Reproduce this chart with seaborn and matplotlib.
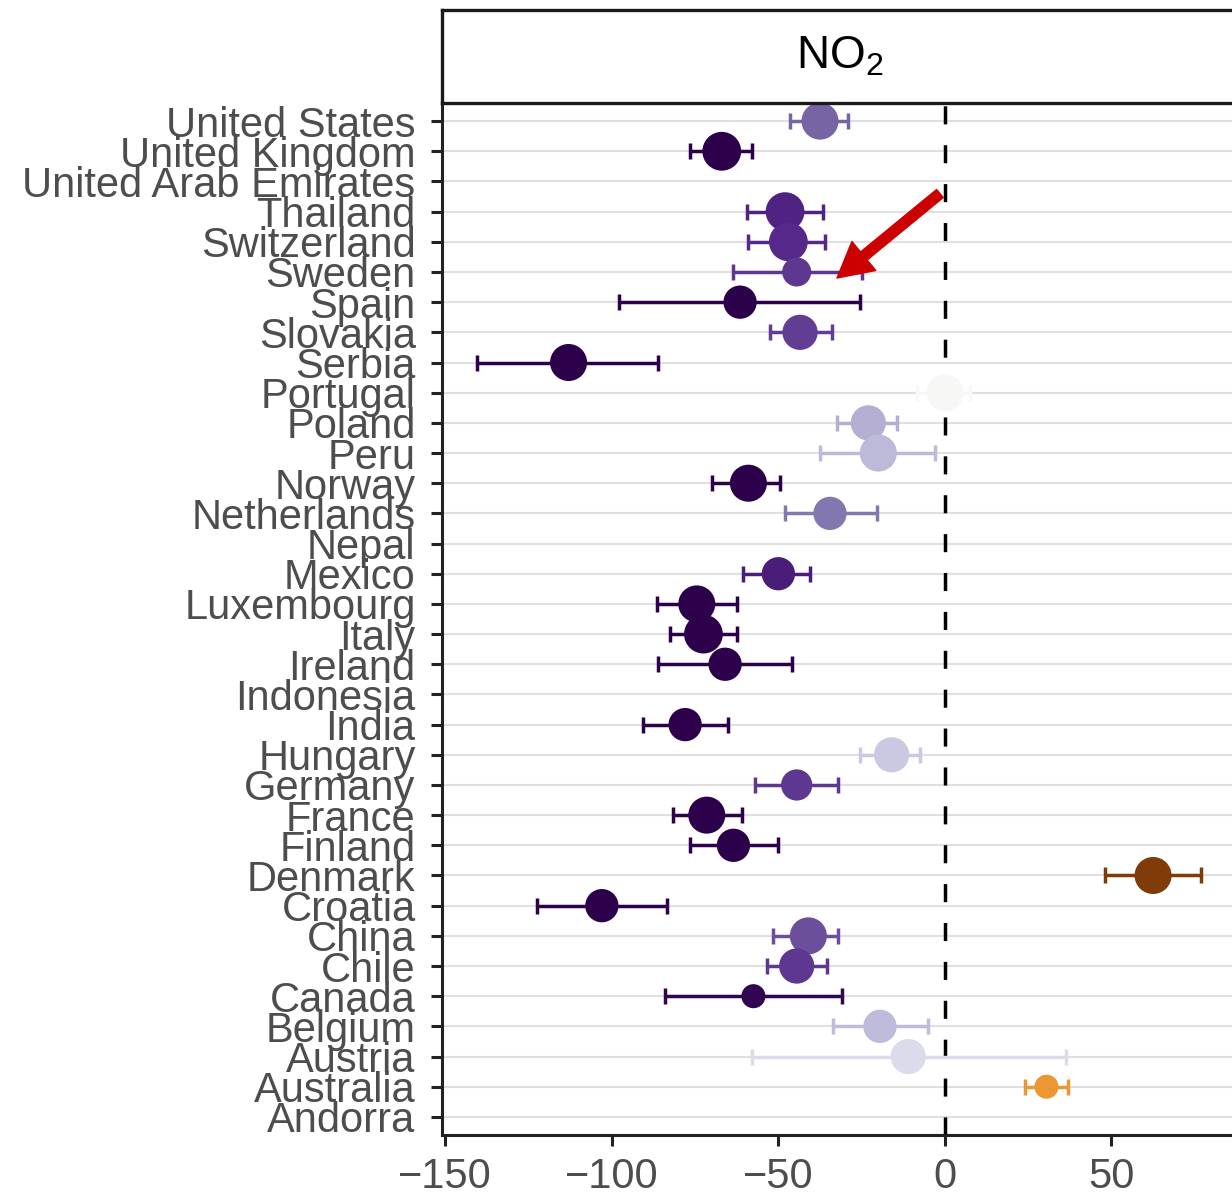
import numpy as np
import pandas as pd
import seaborn as sns
import matplotlib.pyplot as plt
from matplotlib.colors import Normalize

nan = np.nan

# countries from top to bottom
countries = ["United States", "United Kingdom", "United Arab Emirates", "Thailand",
	"Switzerland", "Sweden", "Spain", "Slovakia", "Serbia", "Portugal", "Poland",
	"Peru", "Norway", "Netherlands", "Nepal", "Mexico", "Luxembourg", "Italy",
	"Ireland", "Indonesia", "India", "Hungary", "Germany", "France", "Finland",
	"Denmark", "Croatia", "China", "Chile", "Canada", "Belgium", "Austria",
	"Australia", "Andorra"]

estimate = [-37.5, -67, nan, -48, -47, -44.5, -61.5, -43.5, -113, 0, -23,
	-20, -59, -34.5, nan, -50, -74.5, -72.5,
	-66, nan, -78, -16, -44.5, -71.5, -63.5,
	62.5, -103, -41, -44.5, -57.5, -19.5, -11,
	30.5, nan]

lower = [-46.5, -76.5, nan, -59.5, -59, -63.5, -98, -52.5, -140.5, -8.5, -32.5,
	-37.5, -70, -48, nan, -60.5, -86.5, -82.5,
	-86, nan, -90.5, -25.5, -57, -81.5, -76.5,
	48, -122.5, -51.5, -53.5, -84, -33.5, -58,
	24, nan]

upper = [-29, -58, nan, -36.5, -36, -25, -25.5, -34, -86, 7.5, -14.5,
	-3, -49.5, -20.5, nan, -40.5, -62.5, -62.5,
	-46, nan, -65, -7.5, -32, -61, -50,
	77, -83.5, -32, -35.5, -31, -5, 36.5,
	37, nan]

weight = [18, 19, nan, 19, 19, 14, 16, 17, 18, 18, 17,
	18, 18, 16, nan, 16, 18, 19,
	16, nan, 16, 17, 15, 18, 16,
	18, 16, 18, 17, 12, 16, 17,
	12, nan]

df = pd.DataFrame({'country': countries, 'estimate': estimate,
	'lower': lower, 'upper': upper, 'weight': weight})
df['pos'] = np.arange(len(df))
pts = df.dropna()

sns.set_style('white')
plt.rcParams['font.family'] = ['Liberation Sans', 'DejaVu Sans']
plt.rcParams['mathtext.fontset'] = 'custom'
plt.rcParams['mathtext.rm'] = 'Liberation Sans'

fig = plt.figure(figsize=(12.32, 11.97), dpi=100)
ax = fig.add_axes([442/1232, 62/1197, 796/1232, 1032/1197])
strip = fig.add_axes([442/1232, 1094/1197, 796/1232, 93/1197])

cmap = plt.get_cmap('PuOr_r')
norm = Normalize(-59, 59)

for _, r in pts.iterrows():
	c = cmap(norm(r['estimate']))
	ax.errorbar(r['estimate'], r['pos'], xerr=[[r['estimate'] - r['lower']], [r['upper'] - r['estimate']]],
		fmt='none', ecolor=c, elinewidth=2.5, capsize=5.5, capthick=2.5, zorder=2)

sns.scatterplot(data=pts, x='estimate', y='pos', hue='estimate', palette='PuOr_r',
	hue_norm=norm, size='weight', sizes=(300, 780), size_norm=(12, 19),
	linewidth=0, legend=False, ax=ax, zorder=3)

ax.axvline(0, color='black', lw=2.5, ls=(0, (5.2, 6)), zorder=1)

ax.set_xlim(-151, 88)
ax.set_ylim(len(countries) - 0.4, -0.6)
ax.set_yticks(df['pos'])
ax.set_yticklabels(countries)
ax.set_xticks([-150, -100, -50, 0, 50])
ax.set_xticklabels(['\u2212150', '\u2212100', '\u221250', '0', '50'])
ax.set_xlabel('')
ax.set_ylabel('')
for p in df['pos']:
	ax.axhline(p, color='#e0e0e0', lw=1.5, zorder=0)

for s in ['top', 'right']:
	ax.spines[s].set_visible(False)
for s in ['left', 'bottom']:
	ax.spines[s].set_color('#222222')
	ax.spines[s].set_linewidth(2.2)
ax.tick_params(axis='both', which='major', length=8, width=2.2, color='#222222',
	labelsize=30, labelcolor='#4d4d4d', direction='out')
ax.tick_params(axis='y', pad=11, left=True)
ax.tick_params(axis='x', pad=8, bottom=True)

strip.set_xticks([])
strip.set_yticks([])
for s in strip.spines.values():
	s.set_color('#1a1a1a')
	s.set_linewidth(2.4)
strip.text(0.5, 0.5, r'NO$_\mathregular{2}$', ha='center', va='center',
	fontsize=33, color='black', transform=strip.transAxes)

# arrow pointing at Sweden
ax.annotate('', xy=(-32.4, 5.2), xytext=(-1.5, 2.4),
	arrowprops=dict(arrowstyle='simple,head_width=2.7,head_length=2.5,tail_width=0.75',
		mutation_scale=10, color='#cc0000', shrinkA=0, shrinkB=0), zorder=5)

fig.savefig('out.png', dpi=100)
